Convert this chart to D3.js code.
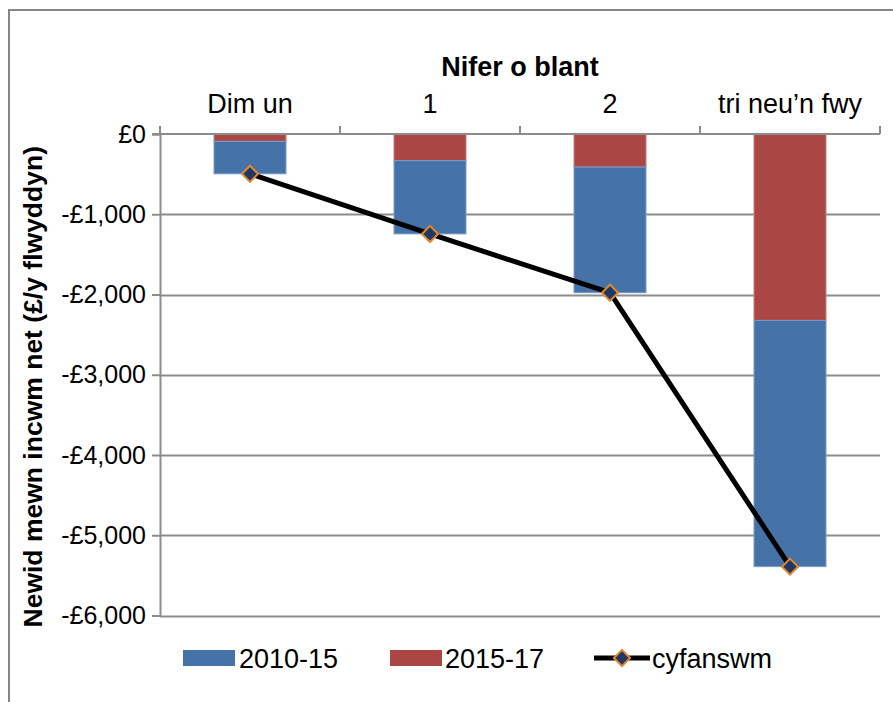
<!DOCTYPE html>
<html><head><meta charset="utf-8">
<script src="https://cdn.jsdelivr.net/npm/d3@7"></script>
<style>html,body{margin:0;padding:0;background:#fff;}svg{display:block;font-family:"Liberation Sans",Arial,sans-serif;}</style>
</head><body>
<svg id="chart" width="893" height="702"></svg>
<script>
const categories = ["Dim un", "1", "2", "tri neu\u2019n fwy"];
const series2010_15 = [-404, -912, -1566, -3068];
const series2015_17 = [-92, -333, -412, -2323];
const cyfanswm = [-496, -1245, -1978, -5391];
const yTicks = [0, -1000, -2000, -3000, -4000, -5000, -6000];
const seriesNames = ["2010-15", "2015-17", "cyfanswm"];
const colors = {blue: "#4572A7", red: "#AA4643", blueEdge: "#7C9CC8", redEdge: "#C87E7B", marker: "#1F3864", markerEdge: "#E3882D"};

const svg = d3.select("#chart");
const W = 893, H = 702;
const m = {left: 160, right: 13, top: 134, bottom: 87};

// outer frame
svg.append("rect").attr("x", 9).attr("y", 10).attr("width", 900).attr("height", 720)
  .attr("fill", "none").attr("stroke", "#868686").attr("stroke-width", 2);

const x = d3.scaleBand().domain(categories).range([m.left, W - m.right]).paddingInner(0.6).paddingOuter(0.3);
const xb = d3.scaleBand().domain(categories).range([m.left, W - m.right]);
const y = d3.scaleLinear().domain([-6000, 0]).range([H - m.bottom + 0.5, m.top]);

// gridlines
svg.append("g").selectAll("line").data(yTicks.filter(d => d !== 0)).join("line")
  .attr("x1", m.left).attr("x2", W - m.right)
  .attr("y1", d => Math.round(y(d)) + 0.5).attr("y2", d => Math.round(y(d)) + 0.5)
  .attr("stroke", "#8C8C8C").attr("stroke-width", 2);

// y axis
const yAxis = svg.append("g").attr("transform", `translate(${m.left},0)`)
  .call(d3.axisLeft(y).tickValues(yTicks).tickSize(8).tickPadding(6)
    .tickFormat(d => (d < 0 ? "-" : "") + "\u00A3" + d3.format(",")(Math.abs(d))));
yAxis.select(".domain").attr("stroke", "#8C8C8C").attr("stroke-width", 2);
yAxis.selectAll(".tick line").attr("stroke", "#8C8C8C").attr("stroke-width", 2);
yAxis.selectAll(".tick text").attr("font-size", 25).attr("fill", "#000").attr("font-family", "Liberation Sans, Arial, sans-serif");

// bars: red from 0 down, blue below red
const g = svg.append("g");
g.selectAll("rect.red").data(categories).join("rect").attr("class", "red")
  .attr("x", d => x(d)).attr("width", x.bandwidth())
  .attr("y", d => y(0)).attr("height", (d, i) => y(series2015_17[i]) - y(0))
  .attr("fill", colors.red).attr("stroke", colors.redEdge).attr("stroke-width", 1);
g.selectAll("rect.blue").data(categories).join("rect").attr("class", "blue")
  .attr("x", d => x(d)).attr("width", x.bandwidth())
  .attr("y", (d, i) => y(series2015_17[i])).attr("height", (d, i) => y(series2015_17[i] + series2010_15[i]) - y(series2015_17[i]))
  .attr("fill", colors.blue).attr("stroke", colors.blueEdge).attr("stroke-width", 1);

// x axis (top)
const xAxis = svg.append("g").attr("transform", `translate(0,${y(0)})`);
xAxis.append("line").attr("x1", m.left - 8).attr("x2", W - m.right).attr("y1", 0).attr("y2", 0)
  .attr("stroke", "#8C8C8C").attr("stroke-width", 2);
const bounds = categories.map(c => xb(c)).concat([xb(categories[categories.length - 1]) + xb.bandwidth()]);
xAxis.selectAll("line.tk").data(bounds).join("line").attr("class", "tk")
  .attr("x1", d => d).attr("x2", d => d).attr("y1", 0).attr("y2", -8)
  .attr("stroke", "#8C8C8C").attr("stroke-width", 2);
svg.append("g").selectAll("text").data(categories).join("text")
  .attr("x", d => xb(d) + xb.bandwidth() / 2).attr("y", 113)
  .attr("text-anchor", "middle").attr("font-size", 27).text(d => d);

// x title
svg.append("text").attr("x", (m.left + W - m.right) / 2).attr("y", 76)
  .attr("text-anchor", "middle").attr("font-size", 27).attr("font-weight", "bold").text("Nifer o blant");

// y title
svg.append("text").attr("transform", `translate(42,${(y(0) + y(-6000)) / 2 + 12}) rotate(-90)`)
  .attr("text-anchor", "middle").attr("font-size", 26.5).attr("font-weight", "bold")
  .text("Newid mewn incwm net (\u00A3/y flwyddyn)");

// line
const cx = d => xb(d) + xb.bandwidth() / 2;
const line = d3.line().x((d, i) => cx(categories[i])).y(d => y(d));
svg.append("path").datum(cyfanswm).attr("d", line).attr("fill", "none")
  .attr("stroke", "#000").attr("stroke-width", 5).attr("stroke-linejoin", "round");
svg.append("g").selectAll("path").data(cyfanswm).join("path")
  .attr("d", d3.symbol().type(d3.symbolSquare).size(130))
  .attr("transform", (d, i) => `translate(${cx(categories[i])},${y(d)}) rotate(45)`)
  .attr("fill", colors.marker).attr("stroke", colors.markerEdge).attr("stroke-width", 2);

// legend
const ly = 658;
const leg = svg.append("g");
leg.append("rect").attr("x", 183).attr("y", ly - 8).attr("width", 52).attr("height", 16).attr("fill", colors.blue);
leg.append("text").attr("x", 239).attr("y", ly + 10).attr("font-size", 27).text(seriesNames[0]);
leg.append("rect").attr("x", 390).attr("y", ly - 8).attr("width", 52).attr("height", 16).attr("fill", colors.red);
leg.append("text").attr("x", 445).attr("y", ly + 10).attr("font-size", 27).text(seriesNames[1]);
leg.append("line").attr("x1", 594).attr("x2", 650).attr("y1", ly).attr("y2", ly).attr("stroke", "#000").attr("stroke-width", 5);
leg.append("path").attr("d", d3.symbol().type(d3.symbolSquare).size(130)).attr("transform", `translate(622,${ly}) rotate(45)`)
  .attr("fill", colors.marker).attr("stroke", colors.markerEdge).attr("stroke-width", 2);
leg.append("text").attr("x", 652).attr("y", ly + 10).attr("font-size", 27).text(seriesNames[2]);
</script>
</body></html>
